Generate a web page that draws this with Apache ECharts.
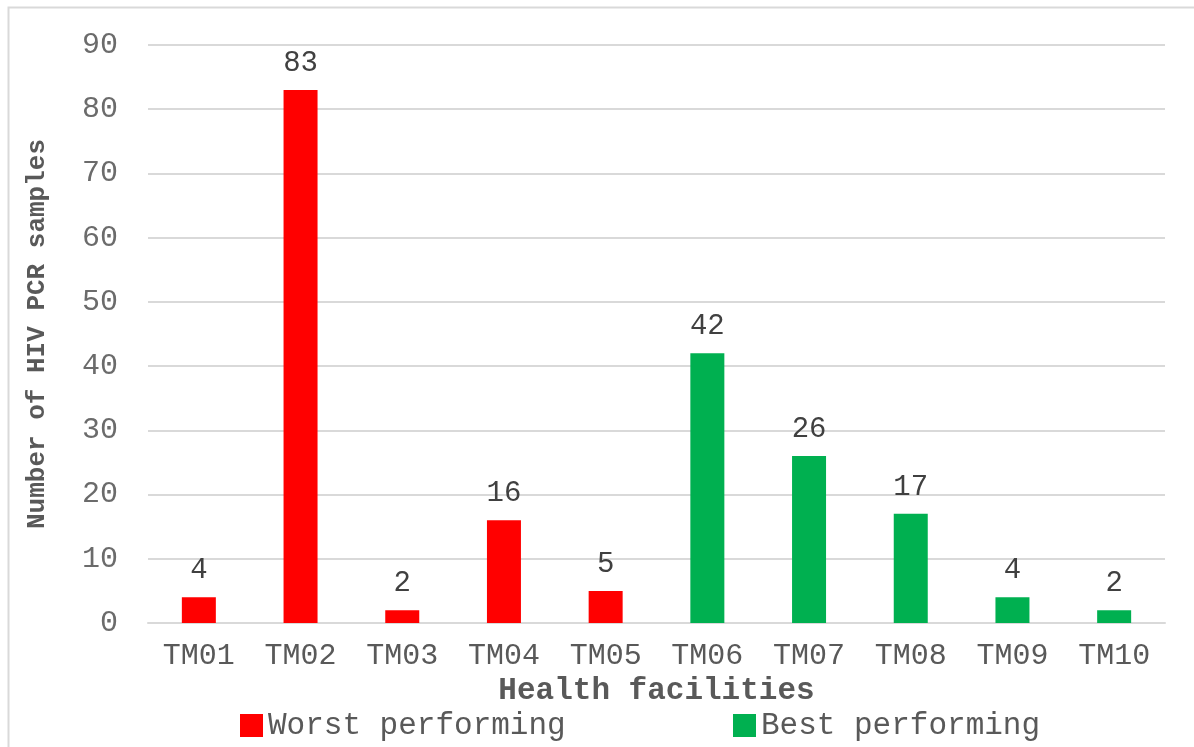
<!DOCTYPE html>
<html>
<head>
<meta charset="utf-8">
<script src="https://cdn.jsdelivr.net/npm/echarts@6/dist/echarts.min.js"></script>
<style>
  html, body { margin: 0; padding: 0; background: #ffffff; }
  #chart { width: 1194px; height: 747px; }
</style>
</head>
<body>
<div id="chart"></div>
<script>
// Health facility codes along the x axis
const facilities = ['TM01', 'TM02', 'TM03', 'TM04', 'TM05', 'TM06', 'TM07', 'TM08', 'TM09', 'TM10'];
// HIV PCR sample counts per group ('-' where the facility is in the other group)
const worstPerforming = [4, 83, 2, 16, 5, '-', '-', '-', '-', '-'];
const bestPerforming = ['-', '-', '-', '-', '-', 42, 26, 17, 4, 2];
const seriesNames = ['Worst performing', 'Best performing'];

const FONT = '"Liberation Mono", "DejaVu Sans Mono", monospace';
const RED = '#FF0000';
const GREEN = '#00B050';

const chart = echarts.init(document.getElementById('chart'), null, { renderer: 'canvas' });

function barSeries(name, data, color) {
  return {
    name: name,
    type: 'bar',
    stack: 'samples',
    data: data,
    barWidth: 34,
    itemStyle: { color: color },
    label: {
      show: true,
      position: 'top',
      distance: 12,
      color: '#404040',
      fontFamily: FONT,
      fontSize: 29
    }
  };
}

const legendText = { color: '#595959', fontFamily: FONT, fontSize: 31 };

chart.setOption({
  animation: false,
  backgroundColor: '#ffffff',
  textStyle: { fontFamily: FONT },
  graphic: [{
    type: 'rect',
    shape: { x: 8.5, y: 7.5, width: 1200, height: 760 },
    style: { fill: 'none', stroke: '#d9d9d9', lineWidth: 2 },
    silent: true
  }],
  grid: { left: 148, right: 29, top: 45, bottom: 124 },
  legend: [
    {
      data: [seriesNames[0]],
      left: 235, top: 705,
      itemWidth: 23, itemHeight: 23, itemGap: 10,
      icon: 'rect',
      textStyle: legendText
    },
    {
      data: [seriesNames[1]],
      left: 728, top: 705,
      itemWidth: 23, itemHeight: 23, itemGap: 10,
      icon: 'rect',
      textStyle: legendText
    }
  ],
  xAxis: {
    type: 'category',
    data: facilities,
    name: 'Health facilities',
    nameLocation: 'middle',
    nameGap: 53,
    nameTextStyle: { color: '#595959', fontFamily: FONT, fontSize: 31, fontWeight: 'bold' },
    axisLine: { lineStyle: { color: '#d9d9d9', width: 2 } },
    axisTick: { show: false },
    axisLabel: { color: '#595959', fontFamily: FONT, fontSize: 30, margin: 18, interval: 0 }
  },
  yAxis: {
    type: 'value',
    min: 0,
    max: 90,
    interval: 10,
    name: 'Number of HIV PCR samples',
    nameLocation: 'middle',
    nameGap: 98,
    nameRotate: 90,
    nameTextStyle: { color: '#595959', fontFamily: FONT, fontSize: 26, fontWeight: 'bold' },
    axisLine: { show: false },
    axisTick: { show: false },
    splitLine: { lineStyle: { color: '#d9d9d9', width: 2 } },
    axisLabel: { color: '#6b6b6b', fontFamily: FONT, fontSize: 30, margin: 30 }
  },
  series: [
    barSeries(seriesNames[0], worstPerforming, RED),
    barSeries(seriesNames[1], bestPerforming, GREEN)
  ]
});
</script>
</body>
</html>
